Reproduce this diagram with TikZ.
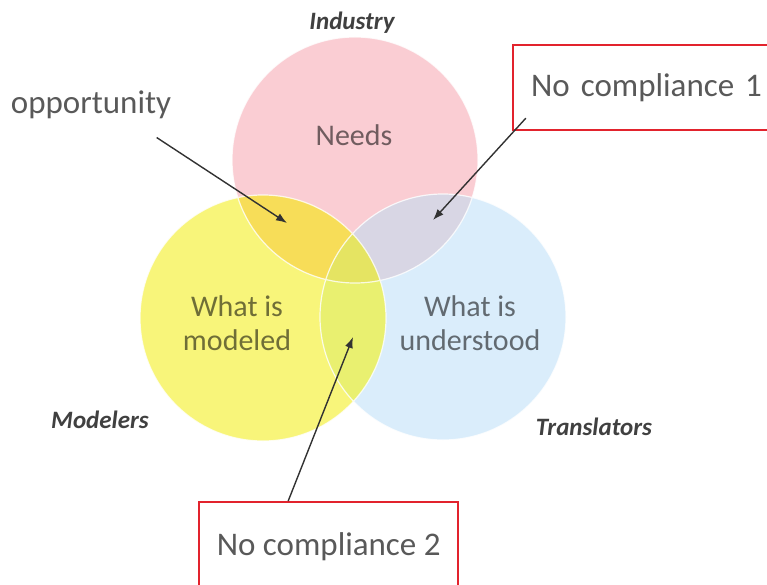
\documentclass[tikz,border=0pt]{standalone}
\usepackage{fontspec}
\setmainfont{Carlito}
\usetikzlibrary{calc,arrows.meta}
\definecolor{needsc}{RGB}{250,205,211}
\definecolor{modc}{RGB}{248,245,122}
\definecolor{undc}{RGB}{218,237,251}
\definecolor{modneeds}{RGB}{247,221,88}
\definecolor{needsund}{RGB}{216,214,228}
\definecolor{modund}{RGB}{233,240,112}
\definecolor{allthree}{RGB}{229,228,98}
\definecolor{boxred}{RGB}{226,35,45}
\definecolor{txtgray}{RGB}{89,89,89}
\definecolor{lblgray}{RGB}{64,64,64}
\definecolor{arrgray}{RGB}{50,50,50}
\begin{document}
\begin{tikzpicture}[x=1pt,y=-1pt,
        callout/.style={draw=boxred, line width=2.4pt, text=txtgray, font=\fontsize{33}{38}\selectfont},
        who/.style={text=lblgray, font=\fontsize{25}{30}\selectfont\bfseries\itshape},
        inside/.style={text=black, text opacity=0.55, align=center, font=\fontsize{30}{34}\selectfont},
        arr/.style={-{Latex[length=11pt,width=8pt]}, line width=1.4pt, draw=arrgray}
        ]
        \useasboundingbox (0,0) rectangle (767,585);
        \def\rad{123pt}
        % Circulos
        \coordinate (cneeds) at (355,160);
        \coordinate (cmod) at (263,318);
        \coordinate (cund) at (443,317);
        \fill[needsc] (cneeds) circle (\rad);
        \fill[modc] (cmod) circle (\rad);
        \fill[undc] (cund) circle (\rad);
        \begin{scope}
            \clip (cneeds) circle (\rad);
            \fill[modneeds] (cmod) circle (\rad);
            \fill[needsund] (cund) circle (\rad);
        \end{scope}
        \begin{scope}
            \clip (cmod) circle (\rad);
            \fill[modund] (cund) circle (\rad);
            \clip (cneeds) circle (\rad);
            \fill[allthree] (cund) circle (\rad);
        \end{scope}
        \draw[white, line width=1.2pt, opacity=0.8] (cneeds) circle (\rad) (cmod) circle (\rad) (cund) circle (\rad);

        % Textos dentro
        \node[inside] (needs) at (354,135) {Needs};
        \node[inside] (modeled) at (237,323) {What is\\modeled};
        \node[inside] (underst) at (470,323) {What is\\understood};

        % Grupos
        \node[who] (industry) at (352,23) {Industry};
        \node[who] (modelers) at (100,420) {Modelers};
        \node[who] (translators) at (594,427) {Translators};

        % Llamadas
        \node[text=txtgray, font=\fontsize{33}{38}\selectfont] (opp) at (91,105) {opportunity};
        \node[callout, text width=239pt, align=right, inner xsep=10pt, minimum height=85pt] (nc1) at (642.5,87.5) {No compliance 1};
        \node[callout, minimum width=259pt, minimum height=89pt, anchor=north west] (nc2) at (198,501) {No compliance 2};

        \coordinate (oppt) at (287,223);
        \coordinate (nc1t) at (433,220);
        \coordinate (nc2t) at (353,337);

        % Flechas
        \draw[arr] (opp.south east) ++(-18,15) -- (oppt);
        \draw[arr] (nc1.south west) ++(14,-13) -- (nc1t);
        \draw[arr] ($(nc2.north west)!0.345!(nc2.north east)$) -- (nc2t);
\end{tikzpicture}
\end{document}
